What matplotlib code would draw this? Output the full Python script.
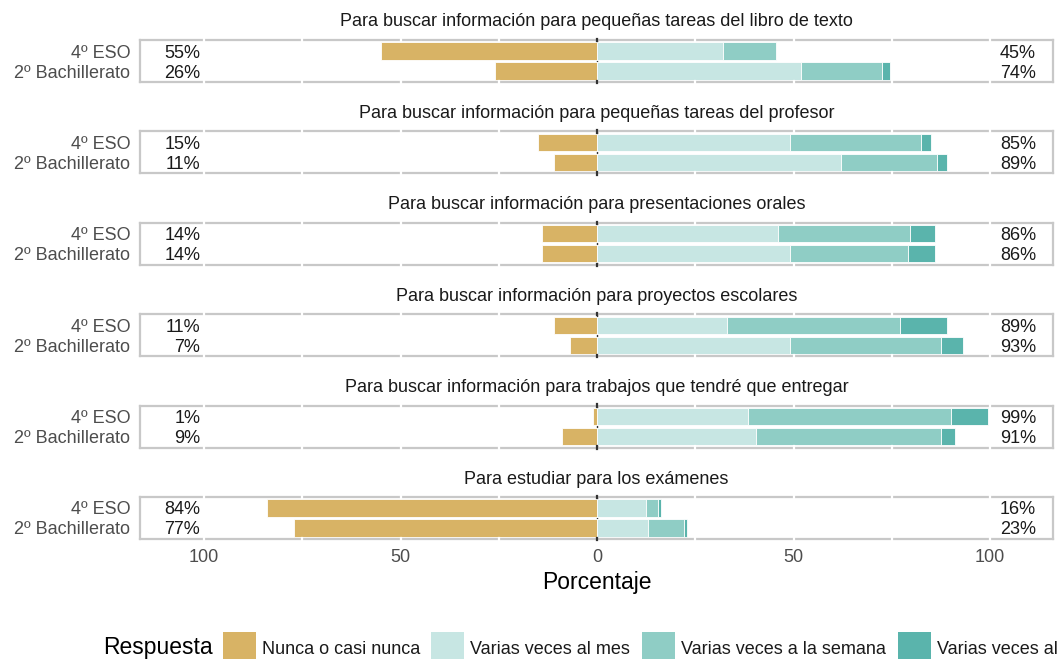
import matplotlib
matplotlib.use("Agg")
import matplotlib.pyplot as plt
from matplotlib.patches import Rectangle

plt.rcParams['font.family'] = ['Liberation Sans', 'DejaVu Sans']

# ---------------- data ----------------
titles = [
    "Para buscar información para pequeñas tareas del libro de texto",
    "Para buscar información para pequeñas tareas del profesor",
    "Para buscar información para presentaciones orales",
    "Para buscar información para proyectos escolares",
    "Para buscar información para trabajos que tendré que entregar",
    "Para estudiar para los exámenes",
]
groups = ["4º ESO", "2º Bachillerato"]
responses = ["Nunca o casi nunca", "Varias veces al mes",
             "Varias veces a la semana", "Varias veces al día"]

# per panel: [ESO, Bachillerato]
nunca = [[55, 26], [15, 11], [14, 14], [11, 7], [1, 9], [84, 77]]
mes = [[32, 52], [49, 62], [46, 49], [33, 49], [38.5, 40.5], [12.5, 13]]
semana = [[13.5, 20.5], [33.5, 24.5], [33.5, 30], [44, 38.5], [51.5, 47], [3, 9]]
dia = [[0, 2], [2.5, 2.5], [6.5, 7], [12, 5.5], [9.5, 3.5], [0.8, 1]]
left_labels = [["55%", "26%"], ["15%", "11%"], ["14%", "14%"],
               ["11%", "7%"], ["1%", "9%"], ["84%", "77%"]]
right_labels = [["45%", "74%"], ["85%", "89%"], ["86%", "86%"],
                ["89%", "93%"], ["99%", "91%"], ["16%", "23%"]]
xticks = [-100, -50, 0, 50, 100]
xticklabels = ["100", "50", "0", "50", "100"]

colors = ["#D8B365", "#C7E6E3", "#8FCDC5", "#5AB4AC"]

# ---------------- layout ----------------
W, H = 1062, 659
fig = plt.figure(figsize=(W / 100, H / 100), dpi=100)

px_left, px_right = 140, 1053
panel_h = 42
first_top = 40
step = 91.4
grid_col = "#C8C8C8"
txt_grey = "#4D4D4D"
fs = 13
fs_big = 16.5

for i in range(6):
    top = first_top + i * step
    bottom = top + panel_h
    ax = fig.add_axes([px_left / W, 1 - bottom / H,
                       (px_right - px_left) / W, panel_h / H])
    ax.set_xlim(-116.3, 116.0)
    ax.set_ylim(-0.55, 1.55)
    ypos = [1, 0]
    for g in range(2):
        y = ypos[g]
        ax.barh(y, -nunca[i][g], left=0, height=0.86, color=colors[0],
                edgecolor="white", linewidth=0.6, zorder=2)
        start = 0
        for vals, col in zip([mes, semana, dia], colors[1:]):
            v = vals[i][g]
            if v > 0:
                ax.barh(y, v, left=start, height=0.86, color=col,
                        edgecolor="white", linewidth=0.6, zorder=2)
            start += v
        ax.text(-101, y, left_labels[i][g], ha="right", va="center_baseline",
                fontsize=fs, color="#1A1A1A", zorder=4)
        ax.text(111.7, y, right_labels[i][g], ha="right", va="center_baseline",
                fontsize=fs, color="#1A1A1A", zorder=4)
    # centre line
    ax.axvline(0, color="#333333", lw=1.0, zorder=1.5)
    for yy in (0.0, 1.0):
        ax.plot([0, 0], [yy - 0.03, yy + 0.03], transform=ax.get_xaxis_transform(),
                color="#333333", lw=1.6, zorder=5, clip_on=False)
    # white gridline breaks on border
    for xg in [-100, -75, -50, -25, 25, 50, 75, 100]:
        for yy in (0.0, 1.0):
            ax.plot([xg, xg], [yy - 0.03, yy + 0.03],
                    transform=ax.get_xaxis_transform(),
                    color="white", lw=1.6, zorder=5, clip_on=False)
    for s in ax.spines.values():
        s.set_color(grid_col)
        s.set_linewidth(1.6)
    ax.set_yticks(ypos)
    ax.set_yticklabels(groups, fontsize=fs, color=txt_grey)
    ax.tick_params(axis="y", length=0, pad=7)
    ax.set_xticks(xticks)
    if i == 5:
        ax.set_xticklabels(xticklabels, fontsize=fs, color=txt_grey)
        ax.tick_params(axis="x", length=0, pad=7)
        ax.set_xlabel("Porcentaje", fontsize=fs_big, color="black", labelpad=4)
    else:
        ax.set_xticklabels([])
        ax.tick_params(axis="x", length=0)
    fig.text((px_left + px_right) / 2 / W, 1 - (top - 18) / H, titles[i],
             ha="center", va="center", fontsize=fs, color="#1A1A1A")

# ---------------- legend (manual, extends past right edge as in reference) ----------------
leg_base = 654
fig.text(103 / W, 1 - leg_base / H, "Respuesta", ha="left", va="baseline",
         fontsize=fs_big, color="black")
box_x = [223, 431, 642, 898]
box_w = 33
for bx, col, lab in zip(box_x, colors, responses):
    fig.patches.append(Rectangle((bx / W, 1 - 665 / H), box_w / W, 33 / H,
                                 transform=fig.transFigure, facecolor=col,
                                 edgecolor="none"))
    fig.text((bx + box_w + 6) / W, 1 - leg_base / H, lab, ha="left",
             va="baseline", fontsize=fs, color="#1A1A1A")

fig.savefig("out.png", dpi=100)
